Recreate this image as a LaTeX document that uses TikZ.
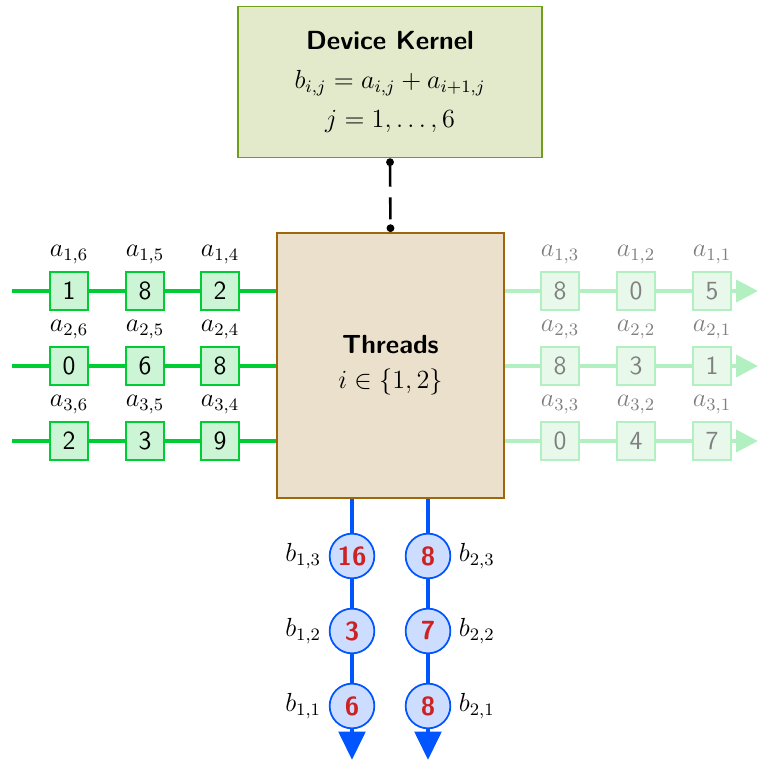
\documentclass[tikz,border=0pt]{standalone}
\usepackage{amsmath,amssymb}
\usepackage{xcolor}
\usetikzlibrary{arrows.meta,positioning,shapes}

\definecolor{kernelfill}{HTML}{E2EACB}
\definecolor{kerneldraw}{HTML}{6E9E1A}
\definecolor{threadfill}{HTML}{EAE0CB}
\definecolor{threaddraw}{HTML}{A0660A}
\definecolor{agreen}{HTML}{00CC33}
\definecolor{afill}{HTML}{CCF5D6}
\definecolor{fgreen}{HTML}{B2F0C2}
\definecolor{ffill}{HTML}{E8F9EC}
\definecolor{bblue}{HTML}{0055FF}
\definecolor{bfill}{HTML}{CCDDFF}
\definecolor{bred}{HTML}{CC2222}

\tikzset{
  every label/.style={font=\large},
  kbox/.style={draw=kerneldraw, fill=kernelfill, line width=0.8pt, minimum width=4.9cm, minimum height=2.43cm, align=center, font=\large},
  tbox/.style={draw=threaddraw, fill=threadfill, line width=0.8pt, minimum width=3.65cm, minimum height=4.27cm, align=center, font=\large},
  abox/.style={draw=agreen, fill=afill, line width=0.8pt, minimum size=0.6cm, inner sep=0pt, font=\sffamily\large},
  fbox/.style={draw=fgreen, fill=ffill, line width=0.8pt, minimum size=0.6cm, inner sep=0pt, font=\sffamily\large, text=black!50},
  flab/.style={text=black!50},
  bnode/.style={circle, draw=bblue, fill=bfill, line width=0.8pt, minimum size=0.72cm, inner sep=0pt, font=\sffamily\bfseries\large, text=bred},
  aline/.style={agreen, line width=1.8pt},
  fline/.style={fgreen, line width=1.8pt, -{Triangle[length=10pt,width=10pt]}},
  bline/.style={bblue, line width=2.2pt, -{Triangle[length=13pt,width=12pt]}},
  dline/.style={black, line width=1.2pt, dash pattern=on 10pt off 5pt, {Circle[length=3.5pt]}-{Circle[length=3.5pt]}}
}

\begin{document}
\begin{tikzpicture}[x=0.0161cm, y=0.0161cm]
	\useasboundingbox (0,0) rectangle (758,760);

	% kernel and threads
	\node[kbox] (K) at (390,678) {{\sffamily\bfseries Device Kernel}\\[4pt] $b_{i,j} = a_{i,j} + a_{i+1,j}$\\[4pt] $j = 1,\ldots,6$};
	\node[tbox] (T) at (390.5,394.5) {{\sffamily\bfseries Threads}\\[2pt] $i \in \{1,2\}$};
	\draw[dline] (K.south) -- (T.north);

	% input rows
	\node[abox, label=above:$a_{1,6}$] (a16) at (69,469) {1};
	\node[abox, label=above:$a_{1,5}$] (a15) at (145,469) {8};
	\node[abox, label=above:$a_{1,4}$] (a14) at (220,469) {2};
	\node[fbox, label={[flab]above:$a_{1,3}$}] (a13) at (560,469) {8};
	\node[fbox, label={[flab]above:$a_{1,2}$}] (a12) at (636,469) {0};
	\node[fbox, label={[flab]above:$a_{1,1}$}] (a11) at (712,469) {5};

	\node[abox, label=above:$a_{2,6}$] (a26) at (69,394) {0};
	\node[abox, label=above:$a_{2,5}$] (a25) at (145,394) {6};
	\node[abox, label=above:$a_{2,4}$] (a24) at (220,394) {8};
	\node[fbox, label={[flab]above:$a_{2,3}$}] (a23) at (560,394) {8};
	\node[fbox, label={[flab]above:$a_{2,2}$}] (a22) at (636,394) {3};
	\node[fbox, label={[flab]above:$a_{2,1}$}] (a21) at (712,394) {1};

	\node[abox, label=above:$a_{3,6}$] (a36) at (69,319) {2};
	\node[abox, label=above:$a_{3,5}$] (a35) at (145,319) {3};
	\node[abox, label=above:$a_{3,4}$] (a34) at (220,319) {9};
	\node[fbox, label={[flab]above:$a_{3,3}$}] (a33) at (560,319) {0};
	\node[fbox, label={[flab]above:$a_{3,2}$}] (a32) at (636,319) {4};
	\node[fbox, label={[flab]above:$a_{3,1}$}] (a31) at (712,319) {7};

	\coordinate (s1) at (12,469);
	\coordinate (s2) at (12,394);
	\coordinate (s3) at (12,319);
	\coordinate (e1) at (758,469);
	\coordinate (e2) at (758,394);
	\coordinate (e3) at (758,319);

	\draw[aline] (s1) -- (a16) -- (a15) -- (a14) -- (a14 -| T.west);
	\draw[aline] (s2) -- (a26) -- (a25) -- (a24) -- (a24 -| T.west);
	\draw[aline] (s3) -- (a36) -- (a35) -- (a34) -- (a34 -| T.west);
	\draw[fline] (a13 -| T.east) -- (a13) -- (a12) -- (a11) -- (e1);
	\draw[fline] (a23 -| T.east) -- (a23) -- (a22) -- (a21) -- (e2);
	\draw[fline] (a33 -| T.east) -- (a33) -- (a32) -- (a31) -- (e3);

	% output columns
	\node[bnode, label=left:$b_{1,3}$] (b13) at (352,204) {16};
	\node[bnode, label=left:$b_{1,2}$] (b12) at (352,129) {3};
	\node[bnode, label=left:$b_{1,1}$] (b11) at (352,54) {6};
	\node[bnode, label=right:$b_{2,3}$] (b23) at (428,204) {8};
	\node[bnode, label=right:$b_{2,2}$] (b22) at (428,129) {7};
	\node[bnode, label=right:$b_{2,1}$] (b21) at (428,54) {8};

	\coordinate (o1) at (352,0);
	\coordinate (o2) at (428,0);

	\draw[bline] (b13 |- T.south) -- (b13) -- (b12) -- (b11) -- (o1);
	\draw[bline] (b23 |- T.south) -- (b23) -- (b22) -- (b21) -- (o2);
\end{tikzpicture}
\end{document}
